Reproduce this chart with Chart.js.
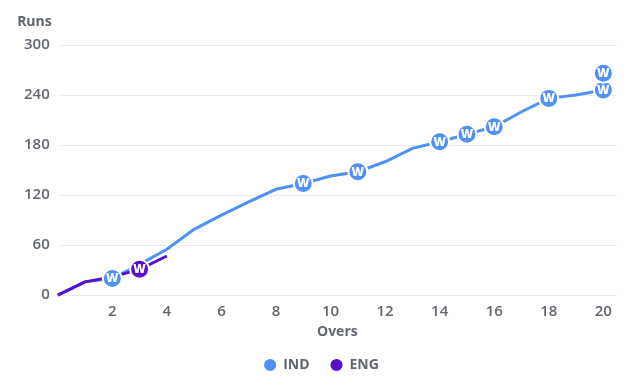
<!DOCTYPE html>
<html>
<head>
<meta charset="utf-8">
<script src="https://cdn.jsdelivr.net/npm/chart.js@4/dist/chart.umd.min.js"></script>
<style>
html,body{margin:0;padding:0;background:#fff;}
#wrap{width:640px;height:387px;}
</style>
</head>
<body>
<div id="wrap"><canvas id="c"></canvas></div>
<script>
const overs = [0,1,2,3,4,5,6,7,8,9,10,11,12,13,14,15,16,17,18,19,20];
const indRuns = [0,16,20,37,55,79,96,112,127,134,143,148,160,176,184,193,202,220,236,240,246];
const engOvers = [0,1,2,3,4];
const engRuns = [0,16,22,31,47];
const indWicketOvers = [2,9,11,14,15,16,18,20,20];
const indWicketRuns = [20,134,148,184,193,202,236,246,266];
const engWicketOvers = [3];
const engWicketRuns = [31];
const yTicks = [0,60,120,180,240,300];
const xTicks = [2,4,6,8,10,12,14,16,18,20];

const IND = '#5190f5';
const ENG = '#5a0fc8';
const FONT = "'Open Sans', sans-serif";
const TXT = '#62666f';

const toXY = (xs, ys) => xs.map((x,i)=>({x:x,y:ys[i]}));

const wLabel = {
  id:'wLabel',
  afterDatasetsDraw(chart){
    const ctx = chart.ctx;
    chart.data.datasets.forEach((ds,i)=>{
      if(!ds.isWicket) return;
      const meta = chart.getDatasetMeta(i);
      ctx.save();
      ctx.fillStyle = '#fff';
      ctx.font = "800 12px " + FONT;
      ctx.textAlign = 'center';
      ctx.textBaseline = 'middle';
      meta.data.forEach(p=>{ ctx.fillText('W', p.x, p.y+0.5); });
      ctx.restore();
    });
  }
};
const yTitle = {
  id:'yTitle',
  afterDraw(chart){
    const ctx = chart.ctx, s = chart.scales.y;
    ctx.save();
    ctx.fillStyle = TXT;
    ctx.font = "bold 14px " + FONT;
    ctx.textAlign = 'right';
    ctx.textBaseline = 'middle';
    ctx.fillText('Runs', s.right - 6, 22);
    ctx.restore();
  }
};

new Chart(document.getElementById('c'), {
  type:'line',
  data:{
    datasets:[
      {label:'IND W', isWicket:true, data:toXY(indWicketOvers, indWicketRuns), showLine:false,
       pointRadius:9.5, pointHoverRadius:9.5, backgroundColor:IND, borderColor:'#fff', pointBorderWidth:2, order:0},
      {label:'ENG W', isWicket:true, data:toXY(engWicketOvers, engWicketRuns), showLine:false,
       pointRadius:9.5, pointHoverRadius:9.5, backgroundColor:ENG, borderColor:'#fff', pointBorderWidth:2, order:1},
      {label:'ENG', data:toXY(engOvers, engRuns), borderColor:ENG, backgroundColor:ENG, borderWidth:3,
       pointRadius:0, tension:0, order:2},
      {label:'IND', data:toXY(overs, indRuns), borderColor:IND, backgroundColor:IND, borderWidth:3,
       pointRadius:0, tension:0, order:3}
    ]
  },
  options:{
    responsive:true, maintainAspectRatio:false, animation:false,
    layout:{padding:{top:45,right:13,left:16,bottom:5}},
    clip:false,
    scales:{
      x:{type:'linear', min:0, max:20.5,
         afterBuildTicks(s){ s.ticks = xTicks.map(v=>({value:v})); },
         grid:{display:false}, border:{display:false},
         ticks:{color:TXT, font:{family:FONT, size:15, weight:'600'}, padding:-0.5},
         title:{display:true, text:'Overs', color:TXT, font:{family:FONT, size:14, weight:'bold'}, padding:{top:3,bottom:-3}}
      },
      y:{min:0, max:300,
         afterBuildTicks(s){ s.ticks = yTicks.map(v=>({value:v})); },
         grid:{color:'#ebebeb', drawTicks:false}, border:{display:false},
         ticks:{color:TXT, font:{family:FONT, size:15, weight:'600'}, padding:8}
      },
      yRight:{position:'right', display:true, min:0, max:300,
         grid:{display:false}, border:{display:false}, ticks:{display:false},
         afterFit(s){ s.width = 10; }
      }
    },
    plugins:{
      legend:{position:'bottom',
        labels:{usePointStyle:true, pointStyle:'circle', boxWidth:12, boxHeight:6.5, padding:21,
          color:TXT, font:{family:FONT, size:14, weight:'bold'},
          filter:(item, data)=>!data.datasets[item.datasetIndex].isWicket,
          sort:(a,b)=> (a.text==='IND'?0:1) - (b.text==='IND'?0:1)
        }},
      tooltip:{enabled:false}
    }
  },
  plugins:[wLabel, yTitle]
});
</script>
</body>
</html>
